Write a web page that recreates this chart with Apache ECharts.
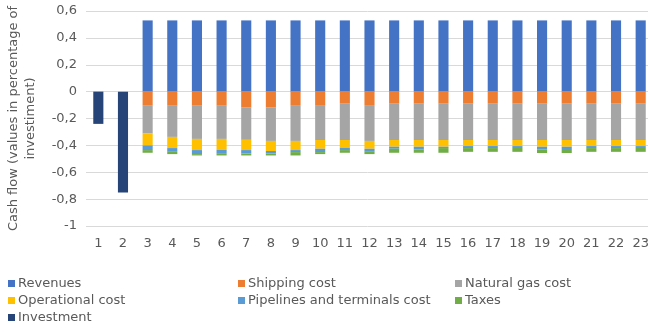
<!DOCTYPE html>
<html>
<head>
<meta charset="utf-8">
<script src="https://cdn.jsdelivr.net/npm/echarts@6/dist/echarts.min.js"></script>
<style>
  html, body { margin: 0; padding: 0; background: #fff; }
  #chart { width: 648px; height: 333px; }
</style>
</head>
<body>
<div id="chart"></div>
<script>
// anos do projeto
var years = ['1','2','3','4','5','6','7','8','9','10','11','12','13','14','15','16','17','18','19','20','21','22','23'];

var revenues = [null, null, 0.53,0.53,0.53,0.53,0.53,0.53,0.53,0.53,0.53,0.53,0.53,0.53,0.53,0.53,0.53,0.53,0.53,0.53,0.53,0.53,0.53];
var shipping = [null, null, -0.105,-0.105,-0.105,-0.105,-0.116,-0.116,-0.10,-0.10,-0.09,-0.10,-0.09,-0.09,-0.09,-0.09,-0.09,-0.09,-0.09,-0.09,-0.09,-0.09,-0.09];
var gas = [null, null, -0.207,-0.232,-0.247,-0.247,-0.243,-0.251,-0.267,-0.26,-0.27,-0.267,-0.27,-0.27,-0.27,-0.27,-0.27,-0.27,-0.27,-0.27,-0.27,-0.27,-0.27];
var operational = [null, null, -0.088,-0.083,-0.083,-0.081,-0.076,-0.075,-0.068,-0.065,-0.057,-0.058,-0.05,-0.05,-0.05,-0.045,-0.045,-0.045,-0.05,-0.05,-0.045,-0.045,-0.045];
var pipelines = [null, null, -0.035,-0.028,-0.03,-0.03,-0.025,-0.018,-0.015,-0.025,-0.018,-0.023,-0.015,-0.022,-0.01,-0.015,-0.015,-0.007,-0.022,-0.017,-0.015,-0.015,-0.007];
var taxes = [null, null, -0.02,-0.017,-0.01,-0.012,-0.015,-0.015,-0.025,-0.015,-0.02,-0.017,-0.03,-0.023,-0.035,-0.028,-0.028,-0.036,-0.025,-0.03,-0.028,-0.028,-0.036];
var investment = [-0.24, -0.75, null,null,null,null,null,null,null,null,null,null,null,null,null,null,null,null,null,null,null,null,null];

var chart = echarts.init(document.getElementById('chart'));
var txt = '#595959';
var font = 'DejaVu Sans';

function bar(name, data, color) {
    return {
        name: name,
        type: 'bar',
        stack: 'cf',
        barWidth: '41%',
        data: data,
        itemStyle: { color: color },
        emphasis: { disabled: true }
    };
}

// uma legenda por coluna
function legend(names, left) {
    return {
        data: names,
        orient: 'vertical',
        left: left,
        top: 277,
        padding: 0,
        itemGap: 4,
        itemWidth: 7,
        itemHeight: 7,
        icon: 'rect',
        textStyle: { color: txt, fontSize: 13, fontFamily: font, padding: [0, 0, 0, -2] }
    };
}

var option = {
    animation: false,
    textStyle: { fontFamily: font },
    grid: { left: 86, top: 11, width: 567, height: 215, outerBoundsMode: 'none' },
    legend: [
        legend(['Revenues', 'Operational cost', 'Investment'], 8),
        legend(['Shipping cost', 'Pipelines and terminals cost'], 238),
        legend(['Natural gas cost', 'Taxes'], 455)
    ],
    xAxis: {
        type: 'category',
        data: years,
        axisLine: { show: false, onZero: false },
        axisTick: { show: false },
        axisLabel: { color: txt, fontSize: 13, margin: 11, fontFamily: font }
    },
    yAxis: {
        type: 'value',
        min: -1,
        max: 0.6,
        interval: 0.2,
        name: 'Cash flow (values in percentage of\ninvestiment)',
        nameLocation: 'middle',
        nameGap: 47,
        nameTextStyle: { color: txt, fontSize: 13, fontFamily: font, lineHeight: 17 },
        axisLabel: {
            color: txt, fontSize: 13, margin: 9, fontFamily: font,
            formatter: function (v) {
                return String(Math.round(v * 10) / 10).replace('.', ',');
            }
        },
        splitLine: { lineStyle: { color: '#D9D9D9' } }
    },
    series: [
        bar('Revenues', revenues, '#4472C4'),
        bar('Shipping cost', shipping, '#ED7D31'),
        bar('Natural gas cost', gas, '#A5A5A5'),
        bar('Operational cost', operational, '#FFC000'),
        bar('Pipelines and terminals cost', pipelines, '#5B9BD5'),
        bar('Taxes', taxes, '#70AD47'),
        bar('Investment', investment, '#264478')
    ]
};

chart.setOption(option);
window.addEventListener('resize', function () {
    chart.resize();
});
</script>
</body>
</html>
